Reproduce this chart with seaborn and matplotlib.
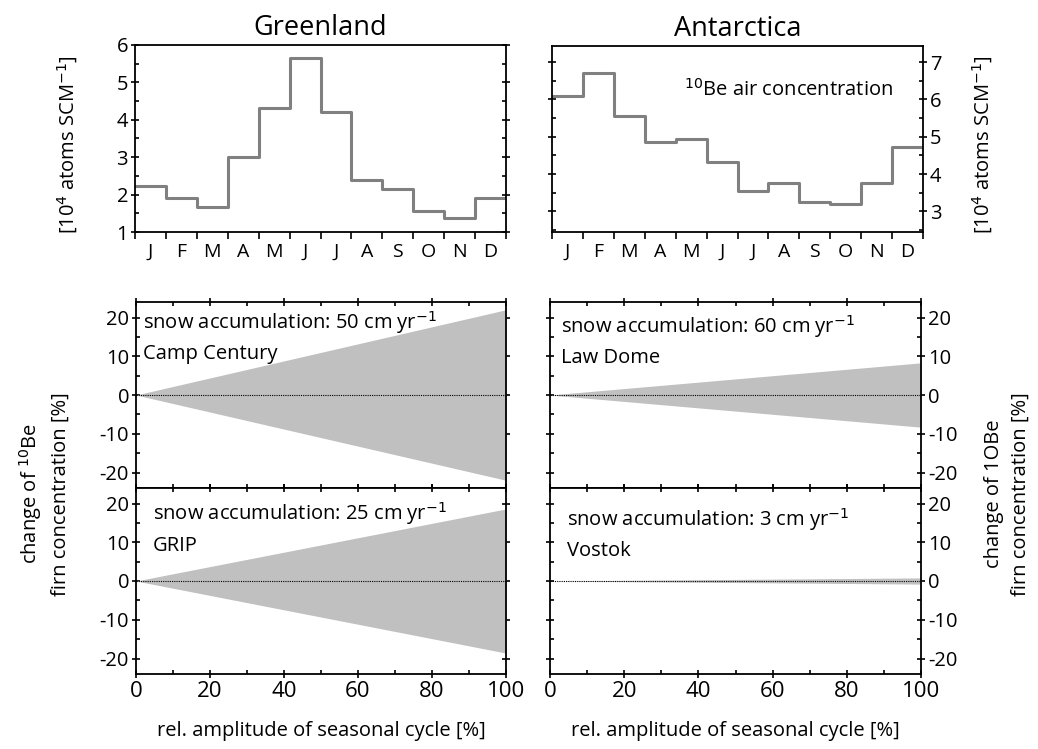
import numpy as np
import pandas as pd
import matplotlib
matplotlib.use("Agg")
import matplotlib.pyplot as plt
import seaborn as sns
from matplotlib.ticker import MultipleLocator, FixedLocator, NullFormatter, FixedFormatter

# Monthly 10Be air concentrations [10^4 atoms SCM^-1]
months = ["J", "F", "M", "A", "M", "J", "J", "A", "S", "O", "N", "D"]
greenland_air = [2.24, 1.90, 1.68, 3.01, 4.32, 5.64, 4.22, 2.40, 2.16, 1.57, 1.38, 1.90]
antarctica_air = [6.08, 6.70, 5.56, 4.87, 4.93, 4.33, 3.56, 3.77, 3.24, 3.21, 3.77, 4.73]

# Firn concentration change versus relative seasonal amplitude
amplitude = [0, 100]
sites = ["Camp Century", "GRIP", "Law Dome", "Vostok"]
accumulation = [50, 25, 60, 3]
max_change = [22.0, 18.6, 8.3, 0.8]

sns.set_theme(style="ticks")
plt.rcParams["font.family"] = ["Open Sans", "DejaVu Sans"]
plt.rcParams["axes.unicode_minus"] = False
plt.rcParams["axes.linewidth"] = 1.3
plt.rcParams["axes.edgecolor"] = "black"
plt.rcParams["text.color"] = "black"
plt.rcParams["axes.labelcolor"] = "black"
plt.rcParams["xtick.color"] = "black"
plt.rcParams["ytick.color"] = "black"

FS_TICK = 14.5
FS_MONTH = 14
FS_XTICK = 16
FS_LAB = 14.5
FS_TXT = 14.5
FS_TITLE = 19.5

fig = plt.figure(figsize=(10.38, 7.49), dpi=100)

W, H = 1038.0, 749.0


def add_axes(x0, y0, x1, y1):
    return fig.add_axes([x0 / W, 1 - y1 / H, (x1 - x0) / W, (y1 - y0) / H])


ax_gt = add_axes(135, 45, 506, 232)
ax_at = add_axes(552, 46, 923, 232)
ax_g1 = add_axes(136, 302, 506, 488)
ax_g2 = add_axes(136, 488, 506, 674)
ax_a1 = add_axes(550, 302, 921, 488)
ax_a2 = add_axes(550, 488, 921, 674)

STEP_COLOR = "#808080"


def monthly_panel(ax, values, ylim, yticks, right=False):
    df = pd.DataFrame({"month": np.arange(13), "conc": list(values) + [values[-1]]})
    sns.lineplot(data=df, x="month", y="conc", drawstyle="steps-post",
                 color=STEP_COLOR, lw=2.2, ax=ax)
    ax.set_xlim(0, 12)
    ax.set_ylim(*ylim)
    ax.xaxis.set_major_locator(FixedLocator(np.arange(13)))
    ax.xaxis.set_major_formatter(NullFormatter())
    ax.xaxis.set_minor_locator(FixedLocator(np.arange(12) + 0.5))
    ax.xaxis.set_minor_formatter(FixedFormatter(months))
    ax.tick_params(axis="x", which="major", direction="out", length=5, width=1.2)
    ax.tick_params(axis="x", which="minor", length=0, labelsize=FS_MONTH, pad=8)
    ax.yaxis.set_major_locator(FixedLocator(yticks))
    ax.yaxis.set_minor_locator(MultipleLocator(0.5))
    ax.tick_params(axis="y", which="both", left=True, right=True, labelsize=FS_TICK,
                   width=1.2)
    ax.tick_params(axis="y", which="major", direction="inout", length=6)
    ax.tick_params(axis="y", which="minor", direction="in", length=3)
    if right:
        ax.tick_params(axis="y", labelleft=False, labelright=True, pad=2)
    else:
        ax.tick_params(axis="y", pad=2)
    ax.set_xlabel("")
    ax.set_ylabel("")
    for s in ax.spines.values():
        s.set_visible(True)
        s.set_color("black")


monthly_panel(ax_gt, greenland_air, (1, 6), [1, 2, 3, 4, 5, 6])
monthly_panel(ax_at, antarctica_air, (2.45, 7.43), [3, 4, 5, 6, 7], right=True)
ax_gt.set_yticklabels(["1", "2", "3", "4", "5", "6"])

ax_gt.set_title("Greenland", fontsize=FS_TITLE, pad=7)
ax_at.set_title("Antarctica", fontsize=FS_TITLE, pad=7)
ax_at.text(0.919, 0.763, r"$^{10}$Be air concentration", transform=ax_at.transAxes,
           ha="right", va="center", fontsize=FS_TXT)

conc_label = r"[10$^{4}$ atoms SCM$^{-1}$]"
fig.text(68 / W, 1 - 145 / H, conc_label, rotation=90, ha="center", va="center",
         fontsize=FS_LAB)
fig.text(983 / W, 1 - 145 / H, conc_label, rotation=90, ha="center", va="center",
         fontsize=FS_LAB)


def firn_panel(ax, idx, right=False, bottom=False, text_x=0.03, text_y=0.87):
    amp = np.array(amplitude, dtype=float)
    m = max_change[idx]
    ax.fill_between(amp, -m * amp / 100.0, m * amp / 100.0, color="#c0c0c0", lw=0)
    sns.lineplot(x=[0, 100], y=[0, 0], color="black", lw=0.8, ls=(0, (1, 1)), ax=ax)
    ax.set_xlim(0, 100)
    ax.set_ylim(-24, 24)
    ax.xaxis.set_major_locator(MultipleLocator(20))
    ax.xaxis.set_minor_locator(MultipleLocator(10))
    ax.yaxis.set_major_locator(FixedLocator([-20, -10, 0, 10, 20]))
    ax.yaxis.set_minor_locator(MultipleLocator(5))
    ax.tick_params(axis="both", which="major", direction="inout", length=6, width=1.2,
                   labelsize=FS_TICK)
    ax.tick_params(axis="both", which="minor", direction="in", length=3, width=1.2)
    ax.tick_params(axis="y", which="both", left=True, right=True, pad=2)
    ax.tick_params(axis="x", which="both", top=True, bottom=True)
    if right:
        ax.tick_params(axis="y", labelleft=False, labelright=True)
    if not bottom:
        ax.tick_params(axis="x", labelbottom=False)
    else:
        ax.tick_params(axis="x", labelsize=FS_XTICK, pad=2)
    ax.text(text_x, text_y,
            f"snow accumulation: {accumulation[idx]} cm yr$^{{-1}}$",
            transform=ax.transAxes, ha="left", va="center", fontsize=FS_TXT)
    ax.text(text_x, text_y - 0.17, sites[idx], transform=ax.transAxes,
            ha="left", va="center", fontsize=FS_TXT)
    ax.set_xlabel("")
    ax.set_ylabel("")
    for s in ax.spines.values():
        s.set_visible(True)
        s.set_color("black")


firn_panel(ax_g1, 0, text_x=0.02, text_y=0.89)
firn_panel(ax_g2, 1, bottom=True, text_x=0.045, text_y=0.86)
firn_panel(ax_a1, 2, right=True, text_x=0.03, text_y=0.87)
firn_panel(ax_a2, 3, right=True, bottom=True, text_x=0.045, text_y=0.83)

ax_g2.set_xlabel("rel. amplitude of seasonal cycle [%]", fontsize=FS_LAB, labelpad=14)
ax_a2.set_xlabel("rel. amplitude of seasonal cycle [%]", fontsize=FS_LAB, labelpad=14)

fig.text(44 / W, 1 - 494 / H, "change of $^{10}$Be\nfirn concentration [%]",
         rotation=90, ha="center", va="center", fontsize=FS_LAB, linespacing=1.45)
fig.text(1007 / W, 1 - 494 / H, "change of 1OBe\nfirn concentration [%]",
         rotation=90, ha="center", va="center", fontsize=FS_LAB, linespacing=1.45)

fig.savefig("out.png", dpi=100)
